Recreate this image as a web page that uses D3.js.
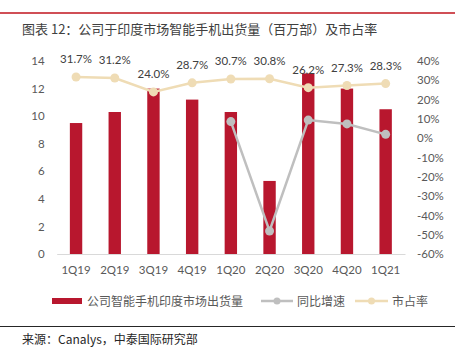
<!DOCTYPE html>
<html><head><meta charset="utf-8">
<script src="https://cdn.jsdelivr.net/npm/d3@7"></script>
<style>
body{margin:0;background:#fff;}
svg{display:block;}
</style></head>
<body>
<script>
const categories = ["1Q19","2Q19","3Q19","4Q19","1Q20","2Q20","3Q20","4Q20","1Q21"];
const shipments = [9.5,10.3,12.0,11.2,10.3,5.3,13.1,12.0,10.5];
const yoyGrowth = [null,null,null,null,8.6,-48.1,9.4,7.4,2.0];
const marketShare = [31.7,31.2,24.0,28.7,30.7,30.8,26.2,27.3,28.3];
const leftTicks = [0,2,4,6,8,10,12,14];
const rightTicks = [-60,-50,-40,-30,-20,-10,0,10,20,30,40];
const legendLabels = ["公司智能手机印度市场出货量","同比增速","市占率"];
const titleText = "图表 12：公司于印度市场智能手机出货量（百万部）及市占率";
const sourceText = "来源：Canalys，中泰国际研究部";

const W=459,H=351;
const FONT = "Lato, 'Noto Sans CJK SC', sans-serif";
const CJK = "'Noto Sans CJK SC', sans-serif";
const svg=d3.select("body").append("svg").attr("width",W).attr("height",H);

// header line & title
svg.append("line").attr("x1",0).attr("x2",455).attr("y1",13).attr("y2",13).attr("stroke","#c0141e").attr("stroke-width",1.5);
svg.append("text").attr("x",22).attr("y",34).attr("font-family",CJK).attr("font-size",13).attr("fill","#404040").text(titleText);

const plot={l:56.7,r:405,t:61,b:254};
const x=d3.scaleBand().domain(categories).range([plot.l,plot.r]).paddingInner(0.68).paddingOuter(0.34);
const yL=d3.scaleLinear().domain([0,14]).range([plot.b,plot.t]);
const yR=d3.scaleLinear().domain([-60,40]).range([plot.b,plot.t]);

// axes
const axL=d3.axisLeft(yL).tickValues(leftTicks).tickSize(0).tickPadding(0);
const gL=svg.append("g").attr("transform",`translate(${plot.l-12},0)`).call(axL);
const axR=d3.axisRight(yR).tickValues(rightTicks).tickSize(0).tickPadding(0).tickFormat(d=>d+"%");
const gR=svg.append("g").attr("transform",`translate(417,0)`).call(axR);
[gL,gR].forEach(g=>{g.select(".domain").remove();g.selectAll("text").attr("font-family",FONT).attr("font-size",11.5).attr("fill","#595959");});

// bars
svg.append("g").selectAll("rect").data(categories).join("rect")
 .attr("x",d=>x(d)).attr("width",x.bandwidth())
 .attr("y",(d,i)=>yL(shipments[i])).attr("height",(d,i)=>yL(0)-yL(shipments[i]))
 .attr("fill","#b8172e");

// x axis
const axB=d3.axisBottom(x).tickSize(0).tickPadding(0);
const gB=svg.append("g").attr("transform",`translate(0,${plot.b})`).call(axB);
gB.select(".domain").attr("stroke","#d9d9d9").attr("stroke-width",1);
gB.selectAll("text").attr("font-family",FONT).attr("font-size",11.5).attr("fill","#595959").attr("dy",0).attr("y",20);

const cx=d=>x(d)+x.bandwidth()/2;

// yoy line
const yoyData=categories.map((c,i)=>({c,v:yoyGrowth[i]})).filter(d=>d.v!==null);
svg.append("path").datum(yoyData).attr("fill","none").attr("stroke","#bfbfbf").attr("stroke-width",2.5)
 .attr("d",d3.line().x(d=>cx(d.c)).y(d=>yR(d.v)));
svg.append("g").selectAll("circle").data(yoyData).join("circle").attr("cx",d=>cx(d.c)).attr("cy",d=>yR(d.v)).attr("r",4.5).attr("fill","#bfbfbf");

// share line
const shareData=categories.map((c,i)=>({c,v:marketShare[i]}));
svg.append("path").datum(shareData).attr("fill","none").attr("stroke","#efdcb5").attr("stroke-width",2.5)
 .attr("d",d3.line().x(d=>cx(d.c)).y(d=>yR(d.v)));
svg.append("g").selectAll("circle").data(shareData).join("circle").attr("cx",d=>cx(d.c)).attr("cy",d=>yR(d.v)).attr("r",4.5).attr("fill","#efdcb5");
svg.append("g").selectAll("text").data(shareData).join("text")
 .attr("x",d=>cx(d.c)).attr("y",d=>yR(d.v)-14).attr("text-anchor","middle")
 .attr("font-family",FONT).attr("font-size",11.5).attr("fill","#404040").text(d=>d.v.toFixed(1)+"%");

// legend
const lg=svg.append("g");
lg.append("rect").attr("x",52).attr("y",298).attr("width",30).attr("height",6).attr("fill","#b8172e");
lg.append("text").attr("x",87).attr("y",305.5).attr("font-family",CJK).attr("font-size",12).attr("fill","#595959").text(legendLabels[0]);
lg.append("line").attr("x1",261).attr("x2",293).attr("y1",301).attr("y2",301).attr("stroke","#bfbfbf").attr("stroke-width",2.5);
lg.append("circle").attr("cx",277).attr("cy",301).attr("r",3.5).attr("fill","#bfbfbf");
lg.append("text").attr("x",297).attr("y",305.5).attr("font-family",CJK).attr("font-size",12).attr("fill","#595959").text(legendLabels[1]);
lg.append("line").attr("x1",355).attr("x2",388).attr("y1",301).attr("y2",301).attr("stroke","#efdcb5").attr("stroke-width",2.5);
lg.append("circle").attr("cx",371.5).attr("cy",301).attr("r",3.5).attr("fill","#efdcb5");
lg.append("text").attr("x",392).attr("y",305.5).attr("font-family",CJK).attr("font-size",12).attr("fill","#595959").text(legendLabels[2]);

// footer
svg.append("line").attr("x1",0).attr("x2",455).attr("y1",326.5).attr("y2",326.5).attr("stroke","#262626").attr("stroke-width",1);
svg.append("text").attr("x",22).attr("y",344).attr("font-family",CJK).attr("font-size",12).attr("fill","#262626").text(sourceText);
</script>
</body></html>
